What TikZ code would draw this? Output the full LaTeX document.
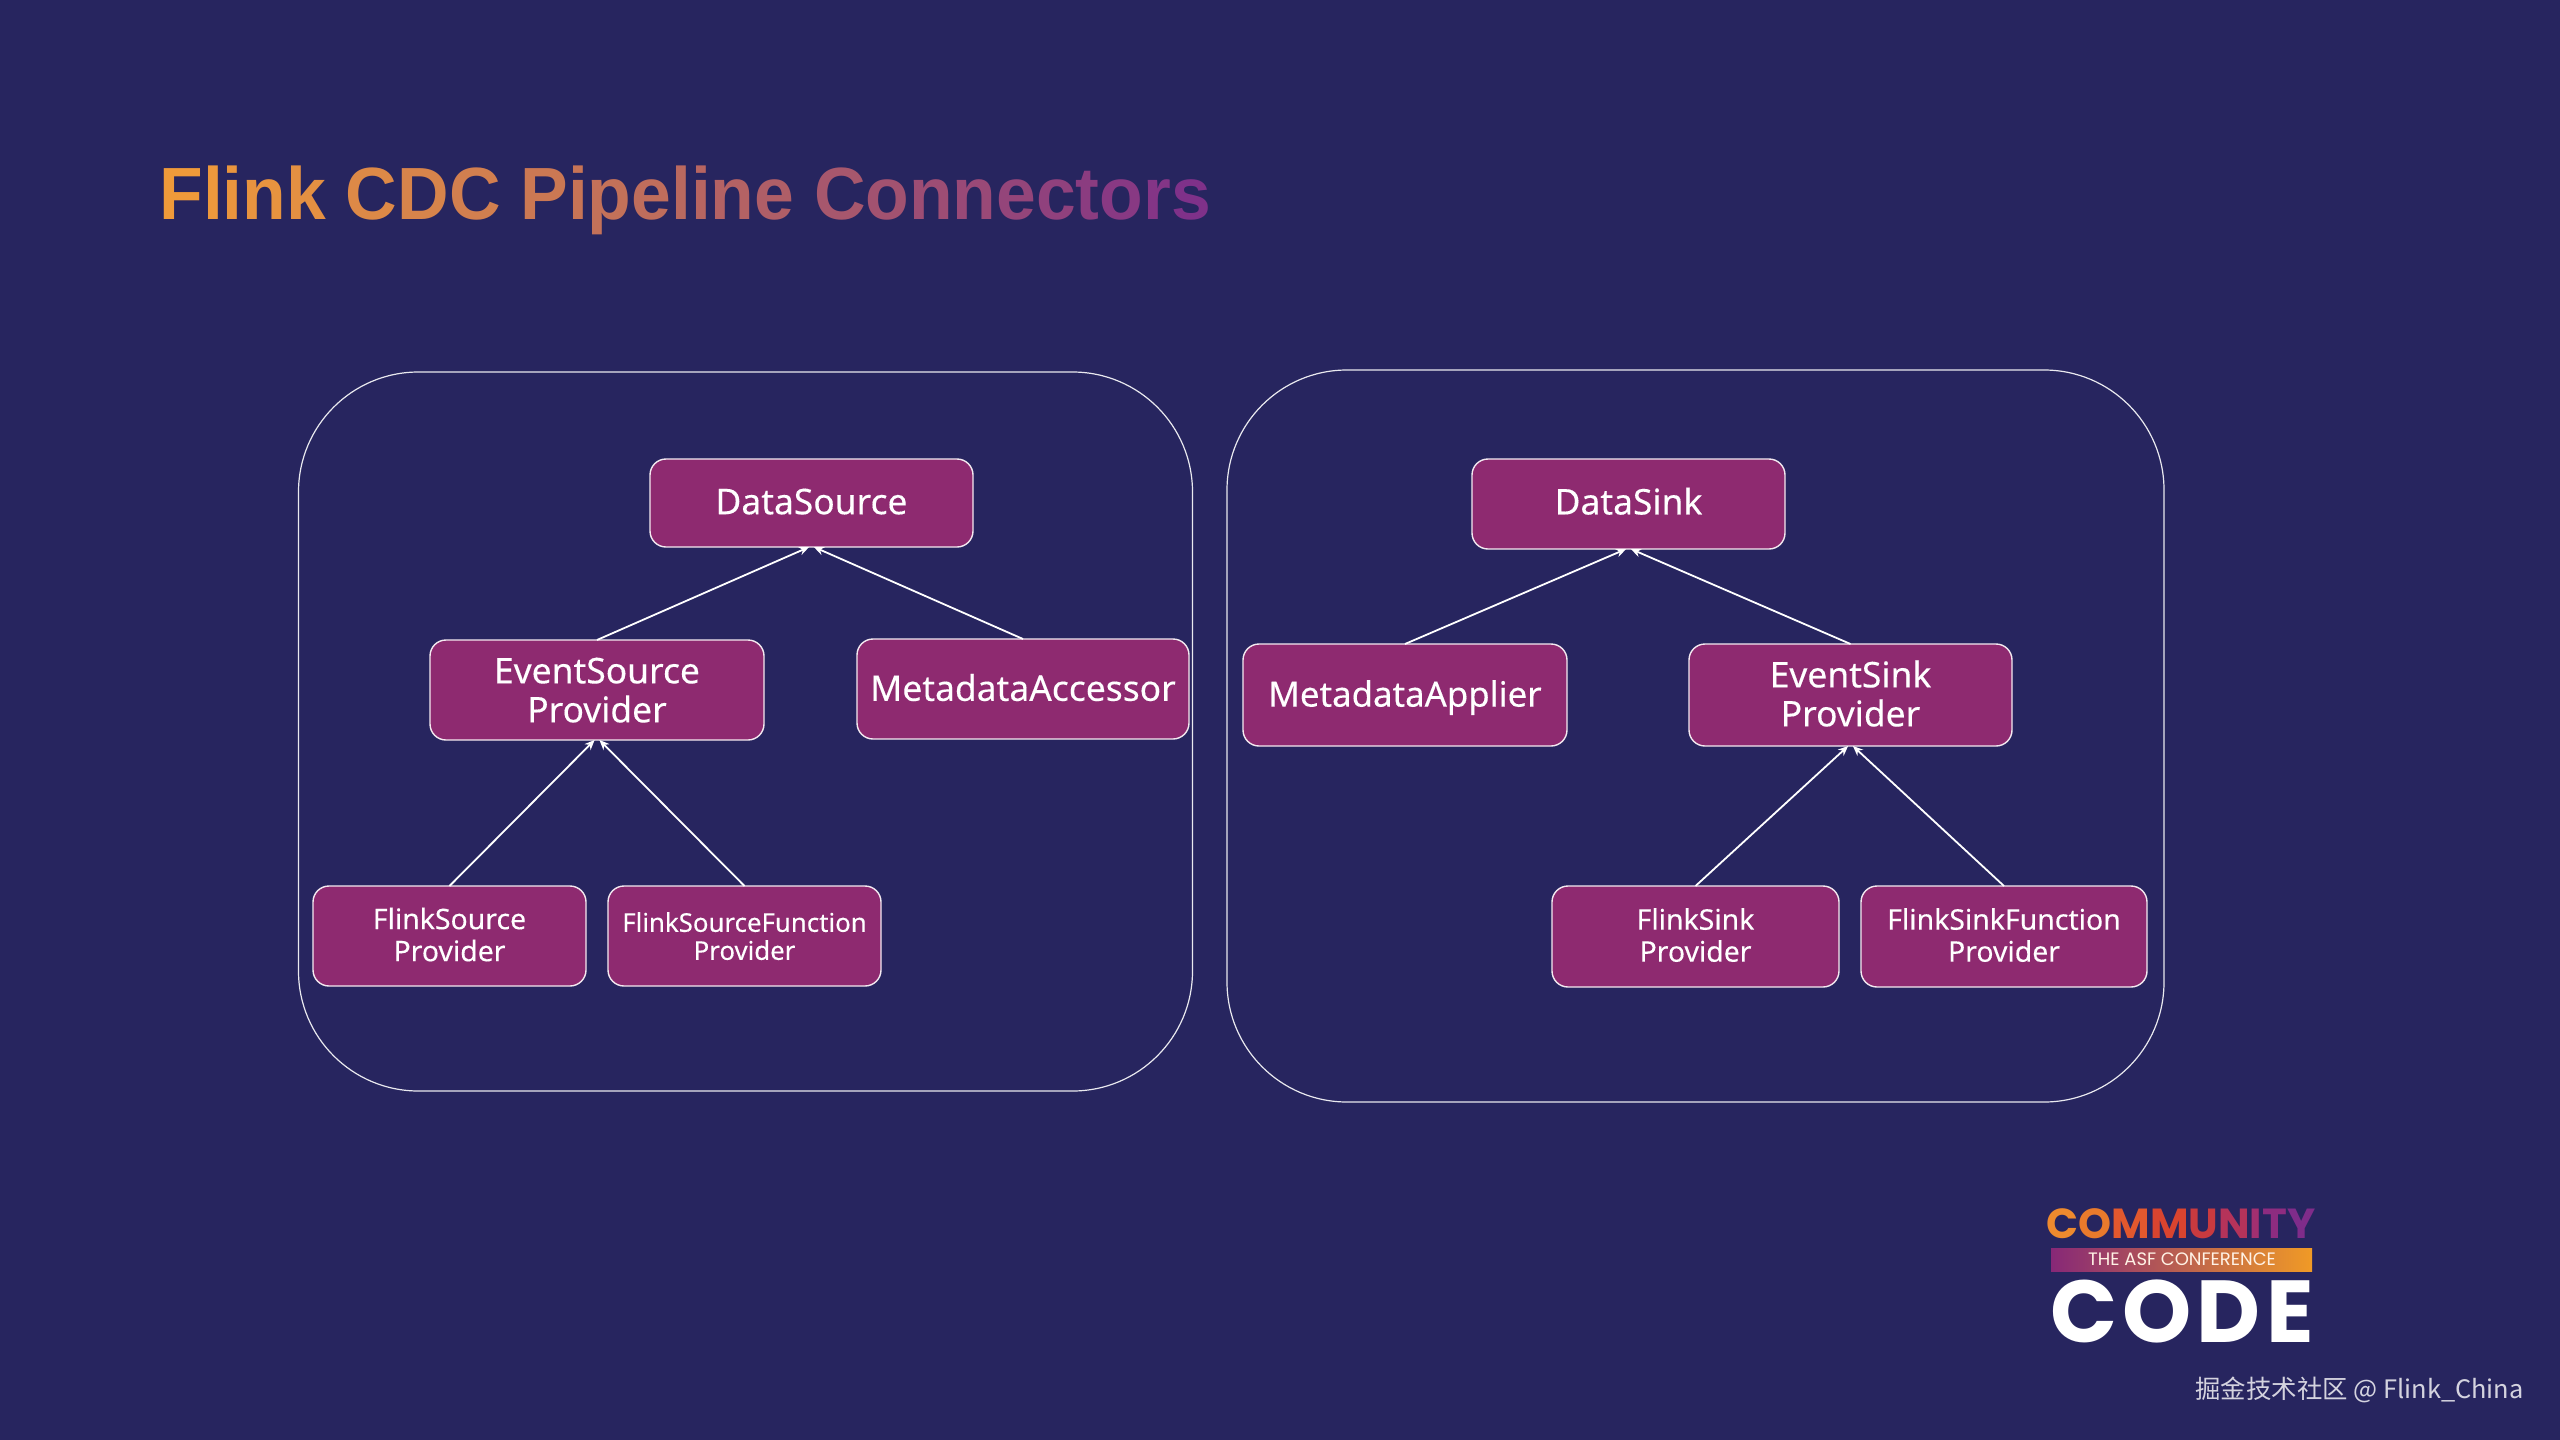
\documentclass[tikz,border=0pt]{standalone}
\usepackage{fontspec}
\usetikzlibrary{arrows.meta}
\setmainfont[FakeBold=0.25]{Noto Sans}
\newfontfamily\titlefont[FakeStretch=0.965]{Liberation Sans}
\newfontfamily\logomed[LetterSpace=3]{Poppins}
\newfontfamily\logolight{Poppins}
\newfontfamily\logobold[LetterSpace=6]{Poppins}
\newfontfamily\cjkfont{Noto Sans CJK SC}
\definecolor{bg}{HTML}{27255F}
\definecolor{boxfill}{HTML}{8E2A70}
\definecolor{tA}{HTML}{EF9A3A}
\definecolor{tB}{HTML}{7F3189}
\newcommand{\gl}[2]{\textcolor{tB!#1!tA}{#2}}
\tikzset{
  groupbox/.style={draw=white!90!bg,line width=0.6pt,rounded corners=60pt,inner sep=0pt,outer sep=0pt},
  classbox/.style={draw=white!90!boxfill,fill=boxfill,line width=0.7pt,rounded corners=8pt,inner sep=0pt,outer sep=0pt,text=white,align=center,text depth=1.6pt},
  inherit/.style={draw=white,line width=0.9pt,-{Stealth[length=5pt,width=4.2pt]}},
  labelA/.style={font=\fontsize{17.7}{19.5}\selectfont},
  labelD/.style={font=\fontsize{17.4}{19.5}\selectfont},
  labelE/.style={labelA,text depth=0pt},
  labelF/.style={labelA,text depth=3pt},
  labelB/.style={font=\fontsize{14.2}{16}\selectfont},
  labelC/.style={font=\fontsize{12.9}{14}\selectfont,text depth=0pt},
}
\newcommand{\bx}[7][labelA]{\node[classbox,#1,minimum width={(#5-#3)*0.5pt},minimum height={(#6-#4)*0.5pt}] (#2) at ({(#3+#5)/2},{(#4+#6)/2}) {#7};}
\begin{document}
\begin{tikzpicture}[x=0.5pt,y=-0.5pt]
\useasboundingbox[fill=bg] (0,0) rectangle (2560,1440);
\node[anchor=base west,inner sep=0pt,font=\titlefont\bfseries\fontsize{37}{40}\selectfont] (title) at (159,219) {\gl{0}{F}\gl{2}{l}\gl{5}{i}\gl{7}{n}\gl{10}{k} \gl{16}{C}\gl{21}{D}\gl{26}{C} \gl{32}{P}\gl{36}{i}\gl{39}{p}\gl{43}{e}\gl{47}{l}\gl{50}{i}\gl{53}{n}\gl{57}{e} \gl{64}{C}\gl{69}{o}\gl{73}{n}\gl{77}{n}\gl{81}{e}\gl{85}{c}\gl{89}{t}\gl{92}{o}\gl{96}{r}\gl{100}{s}};
\node[groupbox,minimum width=447pt,minimum height=359.5pt] (g1) at (745.5,731.5) {};
\node[groupbox,minimum width=468.5pt,minimum height=366pt] (g2) at (1695.5,736) {};
\bx{ds}{650}{459}{973}{547}{DataSource}
\bx[labelE]{es}{430}{640}{764}{740}{EventSource\\Provider}
\bx{ma}{857}{639}{1189}{739}{MetadataAccessor}
\bx[labelB]{fs}{313}{886}{586}{986}{FlinkSource\\Provider}
\bx[labelC]{fsf}{608}{886}{881}{986}{FlinkSourceFunction\\Provider}
\bx[labelF]{dk}{1472}{459}{1785}{549}{DataSink}
\bx[labelD]{mp}{1243}{644}{1567}{746}{MetadataApplier}
\bx{ek}{1689}{644}{2012}{746}{EventSink\\Provider}
\bx[labelB]{fk}{1552}{886}{1839}{987}{FlinkSink\\Provider}
\bx[labelB]{fkf}{1861}{886}{2147}{987}{FlinkSinkFunction\\Provider}
\draw[inherit] (es.north) -- ([xshift=-1.2pt]ds.south);
\draw[inherit] (ma.north) -- ([xshift=1.2pt]ds.south);
\draw[inherit] (fs.north) -- ([xshift=-1.2pt]es.south);
\draw[inherit] (fsf.north) -- ([xshift=1.2pt]es.south);
\draw[inherit] (mp.north) -- ([xshift=-1.2pt]dk.south);
\draw[inherit] (ek.north) -- ([xshift=1.2pt]dk.south);
\draw[inherit] (fk.north) -- ([xshift=-1.2pt]ek.south);
\draw[inherit] (fkf.north) -- ([xshift=1.2pt]ek.south);
% logo
\node[anchor=base,inner sep=0pt,font=\logomed\fontsize{21}{22}\selectfont\bfseries] (lc) at (2181,1238) {\textcolor[HTML]{EE8A2E}{C}\textcolor[HTML]{E97A2C}{O}\textcolor[HTML]{E2582E}{M}\textcolor[HTML]{D9442F}{M}\textcolor[HTML]{C93A3F}{U}\textcolor[HTML]{B5335A}{N}\textcolor[HTML]{A22F70}{I}\textcolor[HTML]{8E2C80}{T}\textcolor[HTML]{7F2C8A}{Y}};
\fill[left color=boxfill!95!blue,right color={rgb,255:red,240;green,154;blue,38}] (2051,1248) rectangle (2312,1271);
\node[anchor=base,inner sep=0pt,text=white!90!orange,font=\logolight\fontsize{9}{9}\selectfont] (lt) at (2182,1265) {THE ASF CONFERENCE};
\node[anchor=base,inner sep=0pt,text=white,font=\logobold\fontsize{44}{46}\selectfont\bfseries] (lk) at (2182,1342) {CODE};
\node[anchor=base east,inner sep=0pt,text=white!80!bg,font=\cjkfont\fontsize{12.7}{15}\selectfont] (wm) at (2524,1398) {掘金技术社区 @ Flink\_China};
\end{tikzpicture}
\end{document}
